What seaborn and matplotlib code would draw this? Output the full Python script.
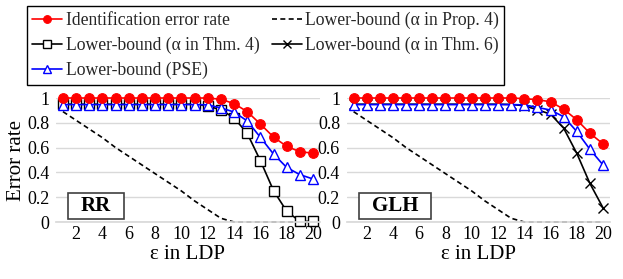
import numpy as np
import pandas as pd
import matplotlib.pyplot as plt
import matplotlib.patches as mpatches
import seaborn as sns

# epsilon values on the category axis
eps = list(range(1, 21))
xtick_vals = [2, 4, 6, 8, 10, 12, 14, 16, 18, 20]
ytick_vals = [0, 0.2, 0.4, 0.6, 0.8, 1]
ytick_labels = ["0", "0.2", "0.4", "0.6", "0.8", "1"]

# RR panel
rr_error = [1, 1, 1, 1, 1, 1, 1, 1, 1, 1, 1, 1, 0.99, 0.955, 0.89, 0.79, 0.685, 0.61, 0.567, 0.555]
rr_prop4 = [0.89, 0.82, 0.75, 0.68, 0.60, 0.53, 0.46, 0.39, 0.32, 0.25, 0.17, 0.10, 0.03,
            0, 0, 0, 0, 0, 0, 0]
rr_thm4 = [0.95, 0.95, 0.95, 0.95, 0.95, 0.95, 0.95, 0.95, 0.95, 0.95, 0.95, 0.935, 0.905,
           0.84, 0.715, 0.495, 0.253, 0.087, 0.005, 0.005]
rr_pse = [0.947, 0.947, 0.947, 0.947, 0.947, 0.947, 0.947, 0.947, 0.947, 0.947, 0.947, 0.945,
          0.92, 0.887, 0.815, 0.683, 0.548, 0.44, 0.382, 0.347]

# GLH panel
glh_error = [1, 1, 1, 1, 1, 1, 1, 1, 1, 1, 1, 1, 1, 0.995, 0.986, 0.97, 0.91, 0.824, 0.716, 0.63]
glh_prop4 = [0.89, 0.82, 0.75, 0.68, 0.60, 0.53, 0.46, 0.39, 0.32, 0.25, 0.17, 0.10, 0.03,
             0, 0, 0, 0, 0, 0, 0]
glh_thm6 = [0.95, 0.95, 0.95, 0.95, 0.95, 0.95, 0.95, 0.95, 0.95, 0.95, 0.95, 0.95, 0.948,
            0.938, 0.905, 0.87, 0.757, 0.554, 0.311, 0.114]
glh_pse = [0.947, 0.947, 0.947, 0.947, 0.947, 0.947, 0.947, 0.947, 0.947, 0.947, 0.947, 0.947,
           0.947, 0.945, 0.924, 0.903, 0.849, 0.73, 0.586, 0.46]

lbl_err = "Identification error rate"
lbl_p4 = "Lower-bound (\u03b1 in Prop. 4)"
lbl_t4 = "Lower-bound (\u03b1 in Thm. 4)"
lbl_t6 = "Lower-bound (\u03b1 in Thm. 6)"
lbl_pse = "Lower-bound (PSE)"

sns.set_theme(style="white")
plt.rcParams['font.family'] = ['Liberation Serif', 'DejaVu Serif']

fig = plt.figure(figsize=(6.23, 2.79), dpi=100)
ax1 = fig.add_axes([0.0905, 0.2043, 0.4225, 0.4444])
ax2 = fig.add_axes([0.557, 0.2043, 0.4215, 0.4444])


def draw_panel(ax, prop4, thm, thm_label, thm_marker, pse, err):
    lw = 1.2
    sns.lineplot(x=eps, y=prop4, ax=ax, color='black', lw=lw, linestyle=(0, (3, 2)),
                 label=lbl_p4, clip_on=False)
    if thm_marker == 's':
        sns.lineplot(x=eps, y=thm, ax=ax, color='black', lw=lw, marker='s', markersize=6.5,
                     mfc='white', mec='black', mew=1.0, label=thm_label, clip_on=False)
    else:
        sns.lineplot(x=eps, y=thm, ax=ax, color='black', lw=lw, marker='x', markersize=7,
                     mec='black', mew=1.0, label=thm_label, clip_on=False)
    sns.lineplot(x=eps, y=pse, ax=ax, color='#0000FF', lw=lw, marker='^', markersize=7,
                 mfc='white', mec='#0000FF', mew=1.0, label=lbl_pse, clip_on=False)
    sns.lineplot(x=eps, y=err, ax=ax, color='#FF0000', lw=lw, marker='o', markersize=7,
                 mfc='#FF0000', mec='#FF0000', label=lbl_err, clip_on=False)
    ax.set_xlim(0.5, 20.5)
    ax.set_ylim(0, 1)
    ax.set_xticks(xtick_vals)
    ax.set_xticklabels([str(v) for v in xtick_vals])
    ax.set_yticks(ytick_vals)
    ax.set_yticklabels(ytick_labels)
    ax.tick_params(axis='both', length=0, labelsize=13, colors='black')
    ax.tick_params(axis='x', pad=3)
    ax.tick_params(axis='y', pad=5)
    ax.yaxis.grid(True, color='#D9D9D9', lw=1.0)
    ax.xaxis.grid(False)
    ax.set_axisbelow(True)
    for s in ['top', 'left', 'right']:
        ax.spines[s].set_visible(False)
    ax.spines['bottom'].set_color('#D9D9D9')
    ax.set_xlabel("\u03b5 in LDP", fontsize=15, labelpad=1, color='black')
    if ax.get_legend() is not None:
        ax.get_legend().remove()


draw_panel(ax1, rr_prop4, rr_thm4, lbl_t4, 's', rr_pse, rr_error)
draw_panel(ax2, glh_prop4, glh_thm6, lbl_t6, 'x', glh_pse, glh_error)
ax1.set_ylabel("Error rate", fontsize=15, color='black')
ax1.yaxis.set_label_coords(-0.117, 0.5)
ax2.set_ylabel("")

# panel name boxes
for ax, name, w in [(ax1, "RR", 0.212), (ax2, "GLH", 0.274)]:
    rect = mpatches.Rectangle((0.045, 0.022), w, 0.215, transform=ax.transAxes,
                              fc='white', ec='#404040', lw=1.2, zorder=5)
    ax.add_patch(rect)
    ax.text(0.045 + w / 2, 0.128, name, transform=ax.transAxes, ha='center', va='center',
            fontsize=15, fontweight='bold', color='black', zorder=6)

# shared legend
handles = {}
for ax in (ax1, ax2):
    h, l = ax.get_legend_handles_labels()
    for hh, ll in zip(h, l):
        handles.setdefault(ll, hh)
order = [lbl_err, lbl_t4, lbl_pse, lbl_p4, lbl_t6]
leg = fig.legend([handles[k] for k in order], order, loc='upper left',
                 bbox_to_anchor=(0.043, 0.977), ncol=2, fontsize=12.7, frameon=True,
                 fancybox=False, edgecolor='black', framealpha=1, borderpad=0.3,
                 labelspacing=0.45, handlelength=1.7, handletextpad=0.2,
                 columnspacing=0.7, borderaxespad=0, markerscale=0.8)
leg.get_frame().set_linewidth(1.0)

fig.savefig("out.png", dpi=100)
